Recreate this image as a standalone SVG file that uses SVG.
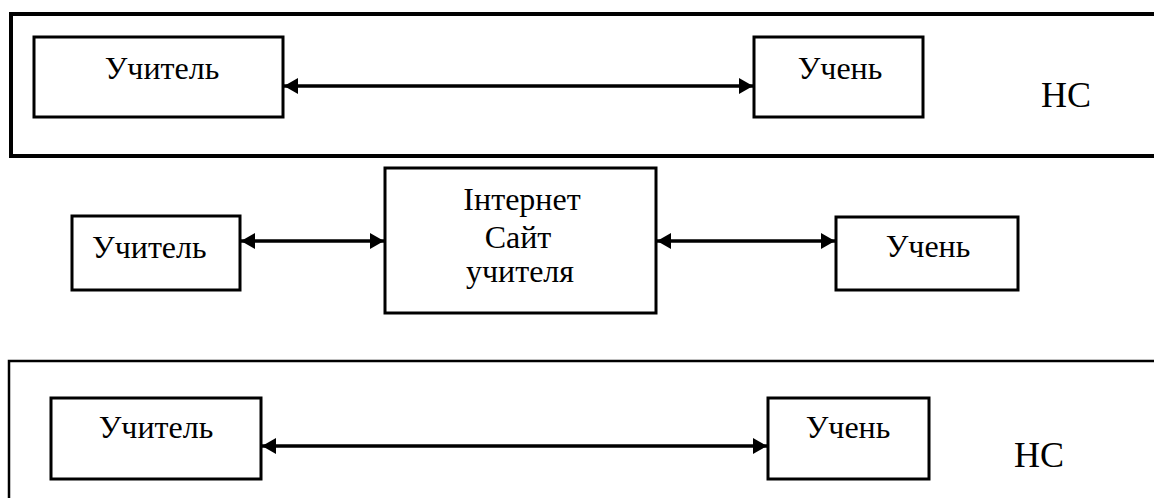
<svg xmlns="http://www.w3.org/2000/svg" width="1154" height="498" viewBox="0 0 1154 498">
<style>
.box{fill:#fff;stroke:#000;stroke-width:3}
.frame{fill:none;stroke:#000}
.t{font-family:"Liberation Serif","Times New Roman",serif;font-size:32px;fill:#000}
.c{text-anchor:middle}
.hc{font-family:"Liberation Serif","Times New Roman",serif;font-size:36px;fill:#000;text-anchor:middle}
.ln{stroke:#000;stroke-width:3.5;fill:none;marker-start:url(#ah);marker-end:url(#ah)}
</style>
<defs>
<marker id="ah" viewBox="0 0 14 16" refX="14" refY="8" markerWidth="14" markerHeight="16" markerUnits="userSpaceOnUse" orient="auto-start-reverse">
<path d="M0,0 L14,8 L0,16 Z" fill="#000"/>
</marker>
</defs>
<rect width="1154" height="498" fill="#fff"/>
<g id="frame-top">
<path class="frame" stroke-width="4" d="M1156,14 H11 V156 H1156"/>
<text class="hc" x="1066" y="107">НС</text>
</g>
<g id="frame-bottom">
<path class="frame" stroke-width="2.5" d="M1156,361 H9 V500"/>
<text class="hc" x="1039" y="467">НС</text>
</g>
<g id="n-teacher1"><rect class="box" x="34" y="37" width="249" height="80"/><text class="t c" x="162" y="79">Учитель</text></g>
<g id="n-pupil1"><rect class="box" x="754" y="37" width="169" height="80"/><text class="t c" x="840" y="79">Учень</text></g>
<g id="n-teacher2"><rect class="box" x="72" y="216" width="168" height="74"/><text class="t" x="92" y="258">Учитель</text></g>
<g id="n-site"><rect class="box" x="385" y="168" width="271" height="145"/><text class="t c" x="522" y="210">Інтернет</text><text class="t c" x="518" y="248">Сайт</text><text class="t c" x="520" y="282">учителя</text></g>
<g id="n-pupil2"><rect class="box" x="836" y="217" width="182" height="73"/><text class="t c" x="928" y="257">Учень</text></g>
<g id="n-teacher3"><rect class="box" x="51" y="398" width="210" height="81"/><text class="t c" x="156" y="438">Учитель</text></g>
<g id="n-pupil3"><rect class="box" x="768" y="398" width="161" height="81"/><text class="t c" x="848" y="438">Учень</text></g>
<g id="connectors">
<line class="ln" x1="284" y1="86" x2="753" y2="86"/>
<line class="ln" x1="241" y1="241" x2="384" y2="241"/>
<line class="ln" x1="657" y1="241" x2="835" y2="241"/>
<line class="ln" x1="262" y1="446" x2="767" y2="446"/>
</g>
</svg>
